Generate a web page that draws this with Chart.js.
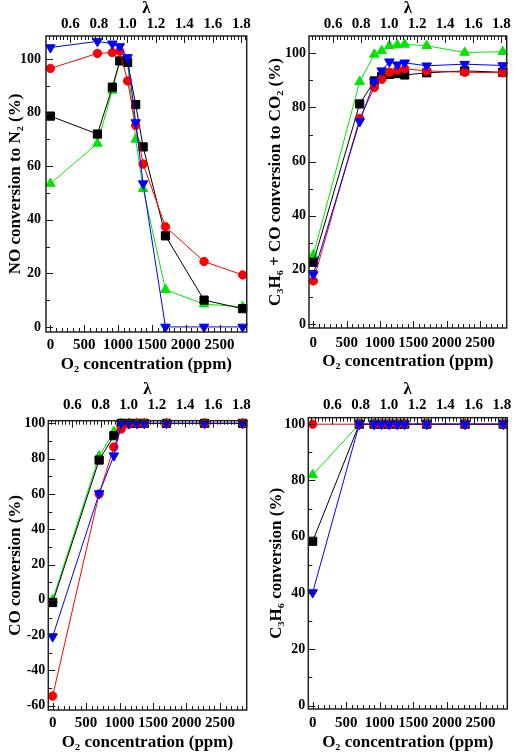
<!DOCTYPE html>
<html><head><meta charset="utf-8">
<script src="https://cdn.jsdelivr.net/npm/chart.js@4.4.1/dist/chart.umd.min.js"></script>
<style>
html,body{margin:0;padding:0;background:#fff;width:515px;height:753px;overflow:hidden;}
.p{position:absolute;}
</style></head><body>
<div class="p" style="left:0px;top:0px;width:257px;height:375px"><canvas id="c1"></canvas></div>
<div class="p" style="left:257px;top:0px;width:258px;height:375px"><canvas id="c2"></canvas></div>
<div class="p" style="left:0px;top:375px;width:257px;height:378px"><canvas id="c3"></canvas></div>
<div class="p" style="left:257px;top:375px;width:258px;height:378px"><canvas id="c4"></canvas></div>
<script>
// ---------- data ----------
const O2_PPM = [0, 695, 915, 1025, 1140, 1260, 1370, 1700, 2270, 2840];
const X_TICKS = [0, 500, 1000, 1500, 2000, 2500];
const X_TICK_LABELS = ['0', '500', '1000', '1500', '2000', '2500'];
const LAMBDA_TICKS = [0.6, 0.8, 1.0, 1.2, 1.4, 1.6, 1.8];
const LAMBDA_TICK_LABELS = ['0.6', '0.8', '1.0', '1.2', '1.4', '1.6', '1.8'];
// lambda at two O2 positions
const LAMBDA_REF_PPM = [295, 2820];
const LAMBDA_REF_VAL = [0.6, 1.8];

const Y_TICKS_POS = [0, 20, 40, 60, 80, 100];
const Y_TICKS_CO = [-60, -40, -20, 0, 20, 40, 60, 80, 100];

// Panel 1: NO conversion to N2 (%)
const no_black = [78.7, 72.0, 89.5, 99.3, 98.8, 83.0, 67.2, 34.0, 10.0, 6.8];
const no_red   = [96.5, 102.1, 102.4, 102.9, 91.8, 75.2, 60.8, 37.4, 24.4, 19.4];
const no_green = [53.5, 68.5, 88.3, 99.0, 98.2, 70.0, 51.6, 13.9, 8.5, 7.5];
const no_blue  = [104.3, 106.6, 105.7, 104.7, 100.6, 76.3, 53.5, 0, 0, 0];

// Panel 2: C3H6 + CO conversion to CO2 (%)
const hc_black = [22.8, 81.3, 89.8, 91.4, 92.2, 92.5, 92.0, 92.8, 93.5, 93.0];
const hc_red   = [15.9, 75.9, 87.4, 90.4, 93.0, 93.8, 94.3, 93.5, 93.0, 92.8];
const hc_green = [25.5, 89.5, 99.6, 100.9, 102.8, 103.1, 103.3, 102.8, 100.3, 100.6];
const hc_blue  = [18.3, 74.8, 89.5, 93.6, 96.9, 95.8, 96.5, 95.4, 96.0, 95.5];

// Panel 3: CO conversion (%)
const co_black = [-1.5, 79.2, 93.0, 100, 100, 100, 100, 100, 100, 100];
const co_red   = [-54.5, 60.0, 86.6, 96.8, 99.5, 100, 100, 100, 100, 100];
const co_green = [0.0, 81.5, 95.3, 100, 100, 100, 100, 100, 100, 100];
const co_blue  = [-20.8, 60.3, 81.7, 100, 100, 100, 100, 100, 100, 100];

// Panel 4: C3H6 conversion (%)
const c3_black = [58.4, 100, 100, 100, 100, 100, 100, 100, 100, 100];
const c3_red   = [100, 100, 100, 100, 100, 100, 100, 100, 100, 100];
const c3_green = [82.0, 100, 100, 100, 100, 100, 100, 100, 100, 100];
const c3_blue  = [40.2, 100, 100, 100, 100, 100, 100, 100, 100, 100];

const X_TITLE = 'O\u2082 concentration (ppm)';
const LAMBDA_TITLE = '\u03BB';
// ---------- end data ----------

const X_MIN = -65, X_MAX = 2900;
const lamAt = v => LAMBDA_REF_VAL[0] + (v - LAMBDA_REF_PPM[0]) * (LAMBDA_REF_VAL[1] - LAMBDA_REF_VAL[0]) / (LAMBDA_REF_PPM[1] - LAMBDA_REF_PPM[0]);

const FAM = "'Liberation Serif','Times New Roman',serif";
const COL = { black: '#000000', red: '#ff0000', green: '#00e600', blue: '#0000ff' };

const innerTicks = {
  id: 'innerTicks',
  afterDraw(chart) {
    const o = chart.options.plugins.innerTicks;
    const { ctx, chartArea: a, scales } = chart;
    ctx.save();
    ctx.strokeStyle = '#1a1a1a';
    ctx.lineWidth = 1;
    const seg = (x1, y1, x2, y2) => { ctx.beginPath(); ctx.moveTo(x1, y1); ctx.lineTo(x2, y2); ctx.stroke(); };
    const each = (scale, majors, step, fn) => {
      majors.forEach(v => { if (v >= scale.min && v <= scale.max) fn(scale.getPixelForValue(v), 7); });
      const k0 = Math.ceil(scale.min / step - 1e-9);
      for (let k = k0; k * step <= scale.max + 1e-9; k++) {
        const v = k * step;
        if (majors.some(m => Math.abs(m - v) < step / 10)) continue;
        fn(scale.getPixelForValue(v), 4);
      }
    };
    const r = p => Math.round(p) + 0.5;
    each(scales.x, X_TICKS, 500 / 6, (p, l) => seg(r(p), a.bottom, r(p), a.bottom - l));
    each(scales.x2, LAMBDA_TICKS, 0.025, (p, l) => seg(r(p), a.top, r(p), a.top + l));
    each(scales.y, o.yMajor, o.yMinor, (p, l) => seg(a.left, r(p), a.left + l, r(p)));
    ctx.lineWidth = 1.5;
    ctx.strokeStyle = '#222';
    ctx.strokeRect(a.left, a.top, a.right - a.left, a.bottom - a.top);
    ctx.restore();
  }
};

function series(values, color, style, radius, rot) {
  return {
    data: O2_PPM.map((x, i) => ({ x: x, y: values[i] })),
    borderColor: color, backgroundColor: color, borderWidth: 1,
    pointStyle: style, pointRotation: rot || 0, pointRadius: radius, pointHoverRadius: radius,
    pointBorderWidth: 1, pointBorderColor: color, pointBackgroundColor: color,
    tension: 0, clip: false, fill: false
  };
}

function panel(id, g, yTitle, yMin, yMax, yTicks, s) {
  const tickFontY = { family: FAM, weight: 'bold', size: 14 };
  const tickFontX = { family: FAM, weight: 'bold', size: 15 };
  const titleFont = { family: FAM, weight: 'bold', size: 17, lineHeight: 1 };
  new Chart(document.getElementById(id), {
    type: 'line',
    data: {
      datasets: [
        series(s[3], COL.blue, 'triangle', 5.5, 180),
        series(s[1], COL.red, 'circle', 4.2),
        series(s[0], COL.black, 'rect', 5.8),
        series(s[2], COL.green, 'triangle', 5.5)
      ]
    },
    options: {
      animation: false, responsive: true, maintainAspectRatio: false, devicePixelRatio: 1,
      layout: { padding: { left: 0, top: 0, right: g.padR, bottom: 0 } },
      plugins: { legend: { display: false }, tooltip: { enabled: false },
        innerTicks: { yMajor: yTicks, yMinor: 10 } },
      scales: {
        x: {
          type: 'linear', position: 'bottom', min: X_MIN, max: X_MAX,
          afterBuildTicks: sc => { sc.ticks = X_TICKS.map(v => ({ value: v })); },
          ticks: { autoSkip: false, maxRotation: 0, minRotation: 0, font: tickFontX, color: '#000', padding: g.xLabelPad,
            callback: (v, i) => X_TICK_LABELS[i] },
          grid: { display: false, drawTicks: false }, border: { display: false },
          title: { display: true, text: X_TITLE, color: '#000', font: { family: FAM, weight: 'bold', size: 17, lineHeight: 1.2 }, padding: { top: 0, bottom: g.xTitlePad } },
          afterFit: sc => { sc.height = g.bottomH; sc.paddingLeft = 0; sc.paddingRight = 0; }
        },
        x2: {
          type: 'linear', position: 'top', min: lamAt(X_MIN), max: lamAt(X_MAX),
          afterBuildTicks: sc => { sc.ticks = LAMBDA_TICKS.map(v => ({ value: v })); },
          ticks: { autoSkip: false, maxRotation: 0, minRotation: 0, font: tickFontX, color: '#000', padding: g.x2LabelPad,
            callback: (v, i) => LAMBDA_TICK_LABELS[i] },
          grid: { display: false, drawTicks: false }, border: { display: false },
          title: { display: true, text: LAMBDA_TITLE, color: '#000', font: titleFont, padding: { top: g.x2TitlePad, bottom: 0 } },
          afterFit: sc => { sc.height = g.topH; sc.paddingLeft = 0; sc.paddingRight = 0; }
        },
        y: {
          type: 'linear', position: 'left', min: yMin, max: yMax,
          afterBuildTicks: sc => { sc.ticks = yTicks.map(v => ({ value: v })); },
          ticks: { autoSkip: false, font: tickFontY, color: '#000', padding: g.yLabelPad,
            callback: (v, i) => String(yTicks[i]) },
          grid: { display: false, drawTicks: false }, border: { display: false },
          title: { display: true, text: yTitle, color: '#000', font: titleFont, padding: { top: g.yTitlePad, bottom: 0 } },
          afterFit: sc => { sc.width = g.yW; sc.paddingTop = 0; sc.paddingBottom = 0; }
        }
      }
    },
    plugins: [innerTicks]
  });
}

panel('c1', { yW: 46, topH: 36, bottomH: 43, padR: 10.3, yLabelPad: 5, yTitlePad: 7, x2LabelPad: 3, x2TitlePad: 0, xLabelPad: 4, xTitlePad: 0 },
  'NO conversion to N\u2082 (%)', -1.9, 108.6, Y_TICKS_POS, [no_black, no_red, no_green, no_blue]);
panel('c2', { yW: 52, topH: 36, bottomH: 47, padR: 8.3, yLabelPad: 3, yTitlePad: 10.5, x2LabelPad: 3, x2TitlePad: 0.5, xLabelPad: 6, xTitlePad: 3 },
  'C\u2083H\u2086 + CO conversion to CO\u2082 (%)', -1.5, 106.4, Y_TICKS_POS, [hc_black, hc_red, hc_green, hc_blue]);
panel('c3', { yW: 48.3, topH: 45.7, bottomH: 43, padR: 10.3, yLabelPad: 3, yTitlePad: 7.5, x2LabelPad: 7, x2TitlePad: 6.5, xLabelPad: 4, xTitlePad: 0 },
  'CO conversion (%)', -62.4, 101.5, Y_TICKS_CO, [co_black, co_red, co_green, co_blue]);
panel('c4', { yW: 51.3, topH: 42.7, bottomH: 44, padR: 7.7, yLabelPad: 3, yTitlePad: 11, x2LabelPad: 4, x2TitlePad: 6.5, xLabelPad: 5, xTitlePad: 0 },
  'C\u2083H\u2086 conversion (%)', -1.2, 102.3, Y_TICKS_POS, [c3_black, c3_red, c3_green, c3_blue]);
</script>
</body></html>
